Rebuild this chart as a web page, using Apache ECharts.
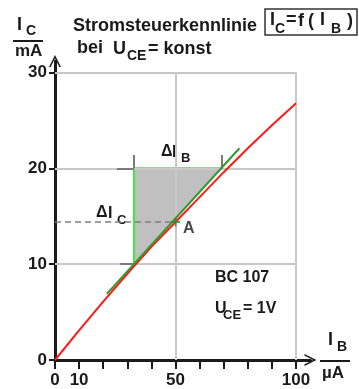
<!DOCTYPE html>
<html>
<head>
<meta charset="utf-8">
<script src="https://cdn.jsdelivr.net/npm/echarts@6/dist/echarts.min.js"></script>
<style>
  html, body { margin: 0; padding: 0; background: #fff; }
  #chart { width: 359px; height: 389px; }
</style>
</head>
<body>
<div id="chart"></div>
<script>
// Transfer characteristic IC = f(IB) of a BC 107 at UCE = 1 V
const ibValues = [0, 10, 20, 30, 40, 50, 60, 70, 80, 90, 100];          // µA
const icValues = [0, 3.1, 6.1, 9.0, 11.8, 14.4, 17.0, 19.6, 22.1, 24.5, 26.8]; // mA

// Operating point A
const pointA = [50, 14.4];

// Tangent through A and the slope triangle (ΔIB, ΔIC)
const tangentPoints = [[21.5, 6.9], [76.5, 22.1]];
const triangle = [[32.8, 10], [32.8, 20], [69, 20]];

// Grid lines and axis ticks
const gridX = [50, 100];
const gridY = [10, 20, 30];
const xTicks = [0, 10, 20, 30, 40, 50, 60, 70, 80, 90, 100];
const xTickLabels = [0, 10, 50, 100];
const yTicks = [0, 10, 20, 30];

// Short extension marks for the Δ dimensions
const dimIb = [[32.8, 20, 21.4], [69, 20, 21.4]];        // [x, y0, y1]
const dimIc = [[20, 25.7, 32.8], [10, 27, 32.8]];        // [y, x0, x1]

const FONT = '"Liberation Sans", Arial, sans-serif';
const INK = '#1a1a1a';

function txt(text, x, y, size) {
  return {
    type: 'text', silent: true,
    style: { text: text, x: x, y: y, font: 'bold ' + size + 'px ' + FONT,
             fill: INK, align: 'left', verticalAlign: 'middle' }
  };
}
function bar(x0, x1, y) {
  return { type: 'line', silent: true,
    shape: { x1: x0, y1: y, x2: x1, y2: y },
    style: { stroke: INK, lineWidth: 2 } };
}

const chevron = 'path://M5,0 L10,10 L8.6,10 L5,2.8 L1.4,10 L0,10 Z';

const gridLineData = [];
gridX.forEach(function (x) { gridLineData.push([{ coord: [x, 0] }, { coord: [x, 30] }]); });
gridY.forEach(function (y) { gridLineData.push([{ coord: [0, y] }, { coord: [100, y] }]); });

const dimData = [];
dimIb.forEach(function (d) { dimData.push([{ coord: [d[0], d[1]] }, { coord: [d[0], d[2]] }]); });
dimIc.forEach(function (d) { dimData.push([{ coord: [d[1], d[0]] }, { coord: [d[2], d[0]] }]); });

const chart = echarts.init(document.getElementById('chart'), null, { renderer: 'canvas' });

chart.setOption({
  animation: false,
  backgroundColor: '#ffffff',
  grid: { left: 55, right: 48.5, top: 61, bottom: 29 },
  xAxis: {
    type: 'value', min: 0, max: 106, interval: 10,
    axisLine: { show: true, onZero: false, lineStyle: { color: INK, width: 3 },
      symbol: ['none', chevron], symbolSize: [12, 12] },
    axisTick: { show: true, length: 9, customValues: xTicks,
      lineStyle: { color: INK, width: 2 } },
    axisLabel: { customValues: xTickLabels, margin: 12, color: INK,
      fontFamily: FONT, fontWeight: 'bold', fontSize: 17 },
    splitLine: { show: false }
  },
  yAxis: {
    type: 'value', min: 0, max: 31.2, interval: 10,
    axisLine: { show: true, onZero: false, lineStyle: { color: INK, width: 3 },
      symbol: ['none', chevron], symbolSize: [12, 12] },
    axisTick: { show: true, length: 6, customValues: yTicks,
      lineStyle: { color: INK, width: 2 } },
    axisLabel: { customValues: yTicks, margin: 8, color: INK,
      fontFamily: FONT, fontWeight: 'bold', fontSize: 17 },
    splitLine: { show: false }
  },
  series: [
    {
      // light grid lines
      type: 'line', data: [], z: 1, silent: true,
      markLine: { silent: true, symbol: 'none', label: { show: false },
        lineStyle: { color: '#c8c8c8', width: 2, type: 'solid' },
        data: gridLineData }
    },
    {
      // shaded slope triangle
      type: 'custom', z: 2, silent: true,
      data: [0],
      renderItem: function (params, api) {
        return { type: 'polygon',
          shape: { points: triangle.map(function (p) { return api.coord(p); }) },
          style: { fill: '#c0c0c0' } };
      }
    },
    {
      // dimension extension marks
      type: 'line', data: [], z: 3, silent: true,
      markLine: { silent: true, symbol: 'none', label: { show: false },
        lineStyle: { color: '#7a7a7a', width: 2, type: 'solid' },
        data: dimData }
    },
    {
      // dashed projection of A onto the IC axis
      type: 'line', z: 3, silent: true, symbol: 'none',
      data: [[0, pointA[1]], pointA],
      lineStyle: { color: '#808080', width: 1.5, type: [6, 4] }
    },
    {
      // triangle legs
      type: 'line', z: 4, silent: true, symbol: 'none',
      data: triangle,
      lineStyle: { color: '#33ee33', width: 2 }
    },
    {
      // characteristic curve
      type: 'line', z: 5, silent: true, symbol: 'none', smooth: false,
      data: ibValues.map(function (x, i) { return [x, icValues[i]]; }),
      lineStyle: { color: '#ff1a1a', width: 2 }
    },
    {
      // tangent at A
      type: 'line', z: 6, silent: true, symbol: 'none',
      data: tangentPoints,
      lineStyle: { color: '#2e9a2e', width: 2 }
    },
    {
      // operating point A
      type: 'scatter', z: 7, silent: true,
      data: [pointA],
      symbol: 'path://M4,0 L6,0 L6,4 L10,4 L10,6 L6,6 L6,10 L4,10 L4,6 L0,6 L0,4 L4,4 Z',
      symbolSize: 9,
      itemStyle: { color: '#2e8a2e' },
      label: { show: true, formatter: 'A', position: 'right', distance: 3,
        offset: [0, 7], color: INK, fontFamily: FONT, fontWeight: 'bold', fontSize: 16 }
    }
  ],
  graphic: [
    // IC / mA axis caption
    txt('I', 17, 25, 18), txt('C', 26, 31, 14), bar(13, 43, 41), txt('mA', 15, 51, 17),
    // title
    txt('Stromsteuerkennlinie', 73, 26, 18),
    txt('bei', 77, 48, 18), txt('U', 113, 49, 18), txt('CE', 127, 56, 14), txt('= konst', 148, 49, 18),
    // boxed formula
    { type: 'rect', silent: true, shape: { x: 265, y: 9, width: 92, height: 26 },
      style: { fill: 'none', stroke: '#333', lineWidth: 1.5 } },
    txt('I', 270, 20, 18), txt('C', 275, 29, 14), txt('=', 286, 20, 18), txt('f', 298, 21, 18),
    txt('(', 308, 21, 18), txt('I', 320, 20, 18), txt('B', 331, 29, 14), txt(')', 347, 21, 18),
    // IB / µA axis caption
    txt('I', 328, 340, 18), txt('B', 337, 347, 14), bar(320, 350, 361), txt('µA', 322, 373, 17),
    // Δ labels
    txt('Δ', 161, 152, 16), txt('I', 172, 153, 16), txt('B', 181, 158, 13),
    txt('Δ', 96, 213, 16), txt('I', 108, 214, 16), txt('C', 117, 220, 13),
    // transistor data
    txt('BC 107', 215, 278, 16),
    txt('U', 215, 309, 16), txt('CE', 223, 315, 13), txt('= 1V', 243, 309, 16)
  ]
});
</script>
</body>
</html>
